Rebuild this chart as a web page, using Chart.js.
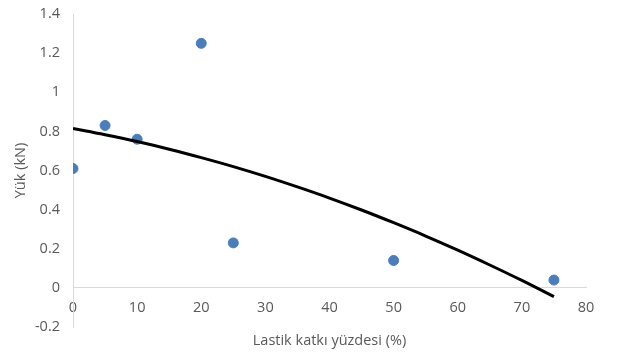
<!DOCTYPE html>
<html>
<head>
<meta charset="utf-8">
<script src="https://cdn.jsdelivr.net/npm/chart.js@4/dist/chart.umd.min.js"></script>
<style>
  html, body { margin: 0; padding: 0; background: #fff; }
  #wrap { width: 618px; height: 354px; }
</style>
</head>
<body>
<div id="wrap"><canvas id="chart" width="618" height="354"></canvas></div>
<script>
// measured points
const katki = [0, 5, 10, 20, 25, 50, 75];
const yuk = [0.61, 0.83, 0.76, 1.25, 0.23, 0.14, 0.04];

// trendline
const trendX = [0, 5, 10, 15, 20, 25, 30, 35, 40, 45, 50, 55, 60, 65, 70, 75];
const trendY = [0.815, 0.783, 0.748, 0.709, 0.666, 0.62, 0.57, 0.516, 0.459, 0.398, 0.333, 0.265, 0.193, 0.117, 0.038, -0.045];

const yTicks = [-0.2, 0, 0.2, 0.4, 0.6, 0.8, 1, 1.2, 1.4];
const yTickLabels = ['-0.2', '0', '0.2', '0.4', '0.6', '0.8', '1', '1.2', '1.4'];
const xTicks = [0, 10, 20, 30, 40, 50, 60, 70, 80];

const textColor = '#595959';
const axisColor = '#d9d9d9';
const font = { family: 'Open Sans', size: 14.5 };

new Chart(document.getElementById('chart'), {
  type: 'scatter',
  data: {
    datasets: [
      {
        label: 'Trend',
        type: 'line',
        data: trendX.map((x, i) => ({ x, y: trendY[i] })),
        borderColor: '#000',
        borderWidth: 3,
        pointRadius: 0,
        fill: false,
        tension: 0.4,
        order: 0
      },
      {
        label: 'Yük',
        data: katki.map((x, i) => ({ x, y: yuk[i] })),
        backgroundColor: '#4a7ebb',
        borderColor: '#4a7ebb',
        pointRadius: 5,
        order: 1
      }
    ]
  },
  options: {
    responsive: false,
    animation: false,
    layout: { padding: { top: 14, right: 32, left: 0, bottom: 0 } },
    plugins: { legend: { display: false }, tooltip: { enabled: false } },
    scales: {
      x: {
        type: 'linear',
        position: { y: 0 },
        min: 0,
        max: 80,
        afterBuildTicks: s => { s.ticks = xTicks.map(v => ({ value: v })); },
        grid: { display: false, drawTicks: false },
        border: { display: true, color: axisColor, width: 1 },
        ticks: { color: textColor, font, padding: 11, maxRotation: 0 }
      },
      x2: {
        type: 'linear',
        axis: 'x',
        position: 'bottom',
        min: 0,
        max: 80,
        grid: { display: false, drawTicks: false },
        border: { display: false },
        ticks: { display: false },
        title: { display: true, text: 'Lastik katkı yüzdesi (%)', color: textColor, font, padding: { top: 4, bottom: 4 } },
        afterFit: s => { s.height = 27; s.paddingLeft = 0; s.paddingRight = 0; }
      },
      y: {
        type: 'linear',
        min: -0.2,
        max: 1.4,
        afterBuildTicks: s => { s.ticks = yTicks.map(v => ({ value: v })); },
        grid: { display: false, drawTicks: false },
        border: { display: true, color: axisColor, width: 1 },
        ticks: {
          color: textColor,
          font,
          padding: 13,
          callback: v => yTickLabels[yTicks.findIndex(t => Math.abs(t - v) < 1e-9)]
        },
        title: { display: true, text: 'Yük (kN)', color: textColor, font, padding: { top: 12, bottom: 0 } },
        afterFit: s => { s.width = 73; s.paddingTop = 0; s.paddingBottom = 0; }
      }
    }
  }
});
</script>
</body>
</html>
